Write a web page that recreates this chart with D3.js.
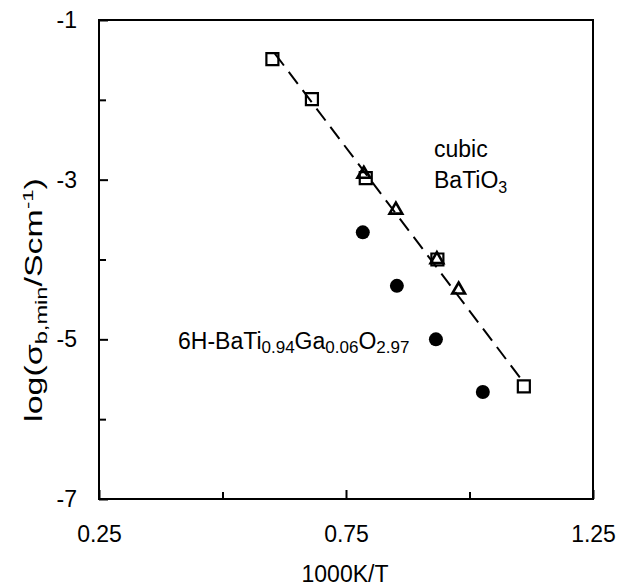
<!DOCTYPE html>
<html>
<head>
<meta charset="utf-8">
<script src="https://cdn.jsdelivr.net/npm/d3@7"></script>
<style>
  body { margin: 0; background: #fff; }
  text { font-family: "Liberation Sans", Arial, sans-serif; fill: #000; }
</style>
</head>
<body>
<div id="chart"></div>
<script>
var width = 629, height = 588;
var mLeft = 99, mRight = 593, mTop = 20, mBottom = 499;

// data
let squareX = [0.601, 0.681, 0.790, 0.935, 1.110];
let squareY = [-1.49, -1.99, -2.98, -4.00, -5.59];
let triX = [0.786, 0.851, 0.934, 0.978];
let triY = [-2.93, -3.38, -4.00, -4.38];
let dotX = [0.784, 0.853, 0.932, 1.027];
let dotY = [-3.66, -4.33, -5.00, -5.66];
let fitX = [0.606, 1.106];
let fitY = [-1.42, -5.51];

let xTicks = [0.25, 0.5, 0.75, 1.0, 1.25];
let xLabels = [0.25, 0.75, 1.25];
let yTicks = [-1, -2, -3, -4, -5, -6, -7];
let yLabels = [-1, -3, -5, -7];

let svg = d3.select('#chart')
  .append('svg')
  .attr('width', width)
  .attr('height', height)

let x = d3.scaleLinear().domain([0.25, 1.25]).range([mLeft, mRight]);
let y = d3.scaleLinear().domain([-7, -1]).range([mBottom, mTop]);

// inward ticks, labelled ones a bit longer
svg.append('g')
  .attr('transform', `translate(0,${mBottom})`)
  .call(d3.axisBottom(x).tickValues(xTicks).tickFormat('').tickSizeOuter(0).tickSizeInner(-7))
  .call(g => g.select('.domain').remove())
  .call(g => g.selectAll('.tick line').attr('stroke-width', 2)
    .attr('y2', d => xLabels.includes(d) ? -9 : -7));

svg.append('g')
  .attr('transform', `translate(${mLeft},0)`)
  .call(d3.axisLeft(y).tickValues(yTicks).tickFormat('').tickSizeOuter(0).tickSizeInner(-7))
  .call(g => g.select('.domain').remove())
  .call(g => g.selectAll('.tick line').attr('stroke-width', 2)
    .attr('x2', d => yLabels.includes(d) ? 9 : 7));

// tick labels
svg.append('g')
  .attr('transform', `translate(0,${mBottom})`)
  .call(d3.axisBottom(x).tickValues(xLabels).tickFormat(d3.format('.2f')).tickSize(0).tickPadding(27))
  .call(g => g.select('.domain').remove())
  .call(g => g.selectAll('text').style('font-size', '23px').attr('fill', '#000'));

svg.append('g')
  .attr('transform', `translate(${mLeft},0)`)
  .call(d3.axisLeft(y).tickValues(yLabels).tickFormat(d => String(d)).tickSize(0).tickPadding(22))
  .call(g => g.select('.domain').remove())
  .call(g => g.selectAll('text').style('font-size', '23px').attr('fill', '#000'));

// frame
svg.append('rect')
  .attr('x', mLeft).attr('y', mTop)
  .attr('width', mRight - mLeft).attr('height', mBottom - mTop)
  .attr('fill', 'none').attr('stroke', '#000').attr('stroke-width', 2);

// dashed fit line
svg.append('path')
  .datum(d3.zip(fitX, fitY))
  .attr('d', d3.line().x(d => x(d[0])).y(d => y(d[1])))
  .attr('fill', 'none').attr('stroke', '#000')
  .attr('stroke-width', 2).attr('stroke-dasharray', '15,8');

// open squares
svg.selectAll('.sq')
  .data(d3.zip(squareX, squareY))
  .enter()
  .append('path')
  .attr('class', 'sq')
  .attr('transform', d => `translate(${x(d[0])},${y(d[1])})`)
  .attr('d', d3.symbol(d3.symbolSquare, 144))
  .attr('fill', 'none').attr('stroke', '#000').attr('stroke-width', 2.2);

// open triangles
svg.selectAll('.tri')
  .data(d3.zip(triX, triY))
  .enter()
  .append('path')
  .attr('class', 'tri')
  .attr('transform', d => `translate(${x(d[0])},${y(d[1])})`)
  .attr('d', d3.symbol(d3.symbolTriangle, 70))
  .attr('fill', 'none').attr('stroke', '#000').attr('stroke-width', 2.6);

// filled circles
svg.selectAll('circle')
  .data(d3.zip(dotX, dotY))
  .enter()
  .append('circle')
  .attr('cx', d => x(d[0]))
  .attr('cy', d => y(d[1]))
  .attr('r', 7)
  .attr('fill', '#000');

// labels
svg.append('text').attr('x', 434).attr('y', 157).style('font-size', '23px').text('cubic');
let bt = svg.append('text').attr('x', 434).attr('y', 188).style('font-size', '23px');
bt.append('tspan').text('BaTiO');
bt.append('tspan').attr('dy', 5).style('font-size', '16px').text('3');

let gl = svg.append('text').attr('x', 178).attr('y', 349).style('font-size', '23px');
gl.append('tspan').text('6H-BaTi');
gl.append('tspan').attr('dy', 4).style('font-size', '17px').text('0.94');
gl.append('tspan').attr('dy', -4).text('Ga');
gl.append('tspan').attr('dy', 4).style('font-size', '17px').text('0.06');
gl.append('tspan').attr('dy', -4).text('O');
gl.append('tspan').attr('dy', 4).style('font-size', '17px').text('2.97');

// axis titles
svg.append('text')
  .attr('x', 345).attr('y', 582)
  .attr('text-anchor', 'middle')
  .style('font-size', '23px')
  .text('1000K/T');

let yt = svg.append('text')
  .attr('text-anchor', 'middle')
  .attr('transform', 'translate(42,300) rotate(-90)')
  .style('font-size', '23px');
yt.append('tspan').text('log(σ');
yt.append('tspan').attr('dy', 5).style('font-size', '16px').text('b,min');
yt.append('tspan').attr('dy', -5).text('/Scm');
yt.append('tspan').attr('dy', -9).style('font-size', '15px').text('-1');
yt.append('tspan').attr('dy', 9).text(')');

// reference title is stretched along its reading direction
let w = yt.node().getBBox().width;
yt.attr('transform', `translate(42,300) rotate(-90) scale(${244 / w},1)`);
</script>
</body>
</html>
